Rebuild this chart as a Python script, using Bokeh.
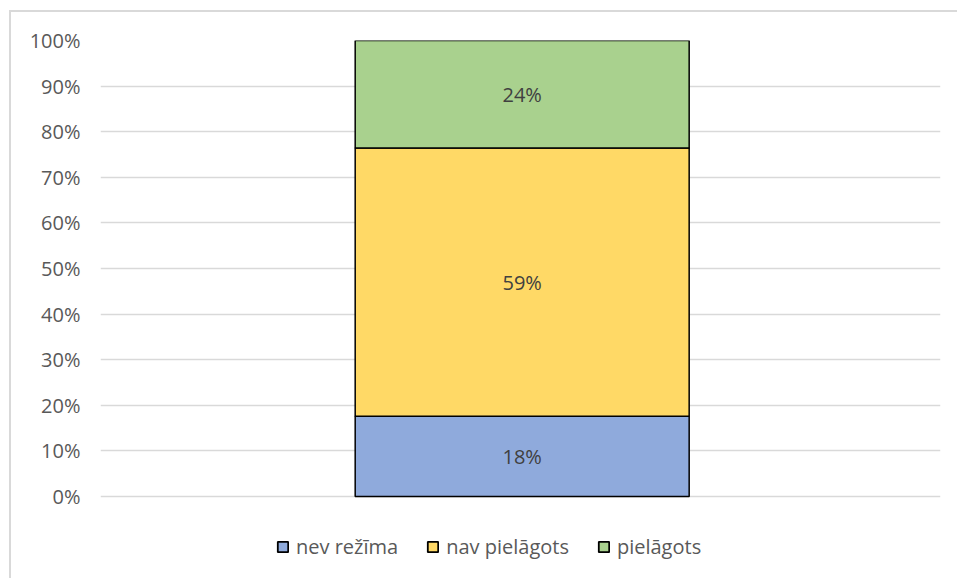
from bokeh.plotting import figure
from bokeh.models import (ColumnDataSource, Legend, LegendItem, FixedTicker, NumeralTickFormatter,
                          Range1d, LabelSet)
from bokeh.core.properties import value
from bokeh.embed import file_html
from bokeh.resources import INLINE

categories = ["nev režīma", "nav pielāgots", "pielāgots"]
values = [0.176, 0.588, 0.236]
colors = ["#8FAADC", "#FFD966", "#A9D18E"]
y_ticks = [0.0, 0.1, 0.2, 0.3, 0.4, 0.5, 0.6, 0.7, 0.8, 0.9, 1.0]

FONT = "Open Sans"

# figure offset by css margin (9, 10) + 2px border; frame top at 40px, 0% at 496px
OFF_X, OFF_Y = 11, 12
W, H = 948, 568
px_per_unit = 456.0
y_start = -(OFF_Y + H - 496) / px_per_unit

p = figure(width=W, height=H, output_backend="svg", toolbar_location=None,
           x_range=Range1d(0, 1), y_range=Range1d(y_start, 1.0),
           min_border_left=100 - OFF_X, min_border_right=OFF_X + W - 940,
           min_border_top=40 - OFF_Y, min_border_bottom=0)
p.outline_line_color = None
p.styles = {"margin-left": "9px", "margin-top": "10px",
            "border-left": "2px solid #d9d9d9", "border-top": "2px solid #d9d9d9"}

bottoms = [sum(values[:i]) for i in range(len(values))]
tops = [b + v for b, v in zip(bottoms, values)]
src = ColumnDataSource(dict(
    x=[0.502] * len(values), bottom=bottoms, top=tops, color=colors, name=categories,
    mid=[(b + t) / 2 for b, t in zip(bottoms, tops)],
    label=[f"{round(v * 100):.0f}%" for v in values],
))

r = p.vbar(x="x", width=0.3976, bottom="bottom", top="top", fill_color="color",
           line_color="black", line_width=1.5, source=src)

labels = LabelSet(x="x", y="mid", text="label", source=src, text_align="center",
                  text_baseline="middle", text_font=value(FONT), text_font_size="20px",
                  text_color="#404040")
p.add_layout(labels)

p.xaxis.visible = False
p.xgrid.visible = False
p.ygrid.grid_line_color = "#d9d9d9"
p.ygrid.grid_line_width = 1.5
p.yaxis.ticker = FixedTicker(ticks=y_ticks)
p.yaxis.formatter = NumeralTickFormatter(format="0%")
p.yaxis.axis_line_color = None
p.yaxis.major_tick_line_color = None
p.yaxis.minor_tick_line_color = None
p.yaxis.major_label_text_font = FONT
p.yaxis.major_label_text_font_size = "20px"
p.yaxis.major_label_text_color = "#595959"
p.yaxis.major_label_standoff = 14

items = []
for i, c in enumerate(categories):
    g = p.rect(x=[-10], y=[-10], width=0.01, height=0.01, fill_color=colors[i],
               line_color="black", line_width=1.8)
    items.append(LegendItem(label=c, renderers=[g]))

legend = Legend(items=items, orientation="horizontal",
                location=(176, OFF_Y + H - 575 + 15),
                label_text_font=FONT, label_text_font_size="20px",
                label_text_color="#595959", glyph_width=13, glyph_height=13,
                spacing=28, label_standoff=7, border_line_color=None,
                background_fill_alpha=0, padding=0, margin=0)
p.add_layout(legend)

open("out.html", "w").write(file_html(p, INLINE))
